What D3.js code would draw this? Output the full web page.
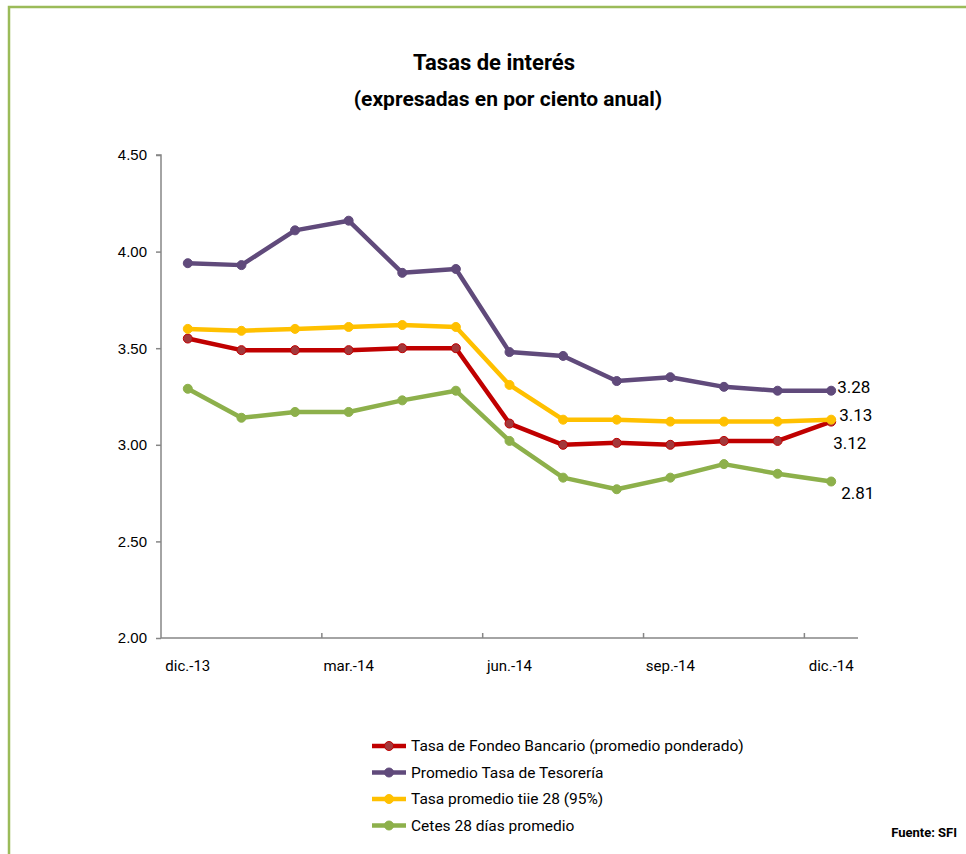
<!DOCTYPE html>
<html lang="es">
<head>
  <meta charset="UTF-8" />
  <title>Tasas de interés</title>
  <style>
    body { margin: 0; background: #fff; }
    svg { display: block; font-family: Roboto, "DejaVu Sans Condensed", sans-serif; }
  </style>
</head>
<body>
  <div id="chart"></div>
<script src="https://d3js.org/d3.v7.min.js"></script>
<script>
  const months = ['dic.-13','ene.-14','feb.-14','mar.-14','abr.-14','may.-14','jun.-14',
                  'jul.-14','ago.-14','sep.-14','oct.-14','nov.-14','dic.-14'];
  const fondeo    = [3.55,3.49,3.49,3.49,3.50,3.50,3.11,3.00,3.01,3.00,3.02,3.02,3.12];
  const tesoreria = [3.94,3.93,4.11,4.16,3.89,3.91,3.48,3.46,3.33,3.35,3.30,3.28,3.28];
  const tiie      = [3.60,3.59,3.60,3.61,3.62,3.61,3.31,3.13,3.13,3.12,3.12,3.12,3.13];
  const cetes     = [3.29,3.14,3.17,3.17,3.23,3.28,3.02,2.83,2.77,2.83,2.90,2.85,2.81];
  const yTicks = [2.0,2.5,3.0,3.5,4.0,4.5];

  const series = [
    {name:'Tasa de Fondeo Bancario (promedio ponderado)', values:fondeo, color:'#c00000', marker:'#a3383b', label:'3.12', dx:2, dy:21},
    {name:'Promedio Tasa de Tesorería', values:tesoreria, color:'#604a7b', marker:'#604a7b', label:'3.28', dx:6, dy:-4},
    {name:'Tasa promedio tiie 28 (95%)', values:tiie, color:'#ffc000', marker:'#ffc000', label:'3.13', dx:8, dy:-5},
    {name:'Cetes 28 días promedio', values:cetes, color:'#8db04b', marker:'#8db04b', label:'2.81', dx:10, dy:12}
  ];

  const W = 966, H = 854;
  const svg = d3.select('#chart').append('svg').attr('width',W).attr('height',H);

  // marco verde
  svg.append('path').attr('d',`M9,${H} V7 H${W}`)
     .attr('fill','none').attr('stroke','#9bbb59').attr('stroke-width',2.5);

  svg.append('text').attr('x',494).attr('y',70).attr('text-anchor','middle')
     .attr('font-size',22).attr('font-weight','bold').text('Tasas de interés');
  svg.append('text').attr('x',508).attr('y',106).attr('text-anchor','middle')
     .attr('font-size',21).attr('font-weight','bold').text('(expresadas en por ciento anual)');

  const pLeft = 161, pRight = 858, pTop = 155, pBottom = 638;
  const x = d3.scaleBand().domain(months).range([pLeft,pRight]).padding(0);
  const y = d3.scaleLinear().domain([2,4.5]).range([pBottom,pTop]);

  const axisColor = '#868686';
  const yAxis = svg.append('g').attr('transform',`translate(${pLeft},0)`)
     .call(d3.axisLeft(y).tickValues(yTicks).tickFormat(d3.format('.2f')).tickSize(5).tickPadding(9));
  yAxis.select('.domain').attr('stroke',axisColor).attr('stroke-width',1.5).attr('d',`M-5,${pTop}H0V${pBottom}`);
  yAxis.selectAll('.tick line').attr('stroke',axisColor).attr('stroke-width',1.5);
  yAxis.selectAll('.tick text').attr('font-size',15).attr('fill','#000').attr('font-family','inherit');

  // eje de categorías
  svg.append('line').attr('x1',pLeft).attr('x2',pRight).attr('y1',pBottom).attr('y2',pBottom)
     .attr('stroke',axisColor).attr('stroke-width',1.5);
  const tickIdx = months.map((m,i)=>i).filter(i=>i%3===0 && i>0);
  svg.selectAll('.xtick').data(tickIdx).join('line')
     .attr('x1',i=>x(months[i])).attr('x2',i=>x(months[i]))
     .attr('y1',pBottom).attr('y2',pBottom-5)
     .attr('stroke',axisColor).attr('stroke-width',1.5);
  svg.selectAll('.xlab').data(months.filter((m,i)=>i%3===0)).join('text')
     .attr('x',m=>x(m)+x.bandwidth()/2).attr('y',pBottom+33)
     .attr('text-anchor','middle').attr('font-size',15).text(m=>m);

  const cx = m => x(m)+x.bandwidth()/2;
  const line = d3.line().x((d,i)=>cx(months[i])).y(d=>y(d));

  series.forEach(s=>{
    const g = svg.append('g');
    g.append('path').datum(s.values).attr('d',line)
     .attr('fill','none').attr('stroke',s.color).attr('stroke-width',4.5).attr('stroke-linejoin','round');
    g.selectAll('circle').data(s.values).join('circle')
     .attr('cx',(d,i)=>cx(months[i])).attr('cy',d=>y(d)).attr('r',4.5)
     .attr('fill',s.marker).attr('stroke',s.color).attr('stroke-width',1);
  });

  // etiquetas del último valor
  series.forEach(s=>{
    const last = s.values.length-1;
    svg.append('text').attr('x',cx(months[last])+s.dx).attr('y',y(s.values[last])+s.dy)
       .attr('dy','0.35em').attr('font-size',17).text(s.label);
  });

  // leyenda
  const lg = svg.append('g').attr('transform','translate(372,746)');
  series.forEach((s,i)=>{
    const row = lg.append('g').attr('transform',`translate(0,${i*26.5})`);
    row.append('line').attr('x1',0).attr('x2',34).attr('stroke',s.color).attr('stroke-width',4.5);
    row.append('circle').attr('cx',17).attr('r',4.5).attr('fill',s.marker).attr('stroke',s.color);
    row.append('text').attr('x',39).attr('dy','0.35em').attr('font-size',15.5).text(s.name);
  });

  svg.append('text').attr('x',957).attr('y',837).attr('text-anchor','end')
     .attr('font-size',13).attr('font-weight','bold').text('Fuente: SFI');
</script>
</body>
</html>
